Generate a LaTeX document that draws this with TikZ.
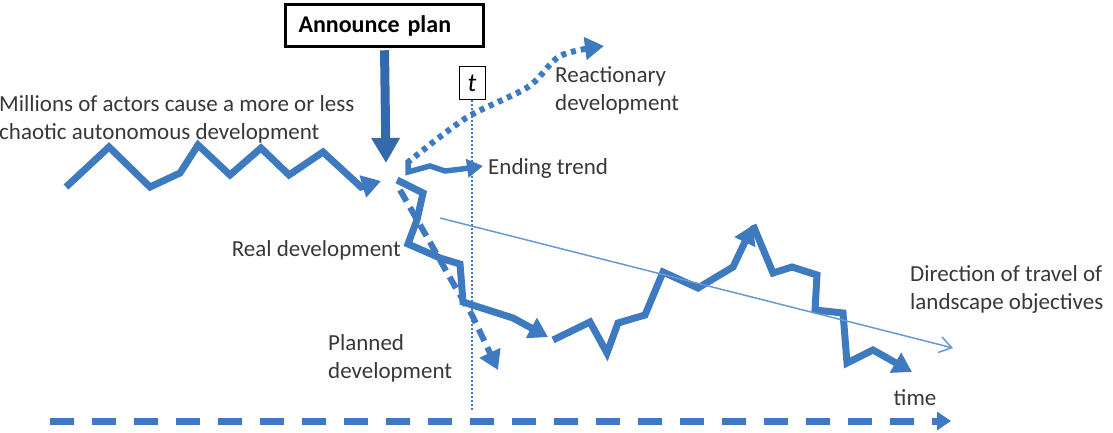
\documentclass[tikz,border=0pt]{standalone}
\usepackage{fontspec}
\setmainfont{Carlito}
\usepackage{xcolor}
\usetikzlibrary{arrows.meta}
\definecolor{trendblue}{RGB}{62,122,192}
\definecolor{planblue}{RGB}{52,106,172}
\definecolor{driftblue}{RGB}{105,152,210}

\begin{document}
\begin{tikzpicture}
    [x=1pt,y=-1pt,
    font=\fontsize{23}{28}\selectfont,
    caption/.style={align=left,text=black!78,inner sep=0pt},
    trend/.style={draw=trendblue,line width=7pt},
    trendarc/.style={trend,-{Triangle[length=19pt,width=22pt]}},
    planned/.style={trendarc,line width=6pt,dash pattern=on 13pt off 7pt},
    reactionary/.style={trendarc,line width=6pt,dash pattern=on 5pt off 5pt},
    drift/.style={draw=driftblue,line width=1.5pt,-{Straight Barb[length=12pt,width=16pt]}},
    timeaxis/.style={draw=trendblue,line width=7pt,dash pattern=on 24pt off 18pt,
      -{Triangle[length=14pt,width=18pt]}}]

    \useasboundingbox (0,0) rectangle (1113,432);

    \node (announce) [draw=black,line width=3.5pt,text width=172pt,align=left,
      inner xsep=13pt,minimum height=42pt,font=\fontsize{24}{28}\selectfont\bfseries]
      at (384.5,25.5) {Announce plan};
    \node (tbox) [draw=black,line width=1pt,minimum width=26pt,minimum height=33pt,
      inner sep=0pt,font=\fontsize{26}{28}\selectfont\itshape] at (472,83) {t};

    \node (millions) [caption,anchor=west] at (-1,119)
      {Millions of actors cause a more or less\\chaotic autonomous development};
    \node (reaction) [caption,anchor=west] at (555,90) {Reactionary\\development};
    \node (ending) [caption,anchor=west] at (488,168) {Ending trend};
    \node (real) [caption,anchor=east] at (401,250) {Real development};
    \node (plan) [caption,anchor=west] at (328,358) {Planned\\development};
    \node (direction) [caption,anchor=west] at (910,289)
      {Direction of travel of\\landscape objectives};
    \node (time) [caption] at (915,398) {time};

    \coordinate (plantip) at (386,163);
    \coordinate (tfoot) at (472,410);
    \coordinate (axisstart) at (50,421);
    \coordinate (axisend) at (951,421);
    \coordinate (driftstart) at (440,218);
    \coordinate (driftend) at (953,348);

    % announcement
    \draw [draw=planblue,line width=9pt,shorten <=2pt,
      -{Triangle[length=25pt,width=27pt]}] (announce.south) -- (plantip);

    % moment t
    \draw [draw=trendblue,line width=2pt,dash pattern=on 2pt off 2pt] (tbox.south) -- (tfoot);

    % autonomous development
    \draw [trendarc] (66,187) -- (109,147) -- (150,187) -- (180,173) -- (198,145)
      -- (230,175) -- (261,148) -- (289,175) -- (323,152) -- (361,187) -- (381,181);

    % branches after the plan
    \draw [reactionary] plot [smooth] coordinates
      {(407,163) (466,118) (528,87) (560,56) (604,46)};
    \draw [trendarc,line width=5.5pt,-{Triangle[length=16pt,width=18pt]}]
      (408,161) -- (408,172) -- (430,166) -- (445,171) -- (462,169) -- (483,166);
    \draw [planned] (400,190) -- (427,237) -- (453,283) -- (472,315) -- (498,370);

    \draw [trendarc] (397,180) -- (423,193) -- (417,220) -- (408,244) -- (440,258)
      -- (460,264) -- (463,302) -- (513,318) -- (548,337);
    \draw [trendarc] (553,340) -- (590,322) -- (607,353) -- (618,323) -- (645,315)
      -- (663,272) -- (698,288) -- (733,267) -- (753,225);
    \draw [trendarc] (753,225) -- (773,273) -- (792,267) -- (817,275) -- (815,310)
      -- (843,313) -- (847,363) -- (873,350) -- (912,372);

    \draw [drift] (driftstart) -- (driftend);
    \draw [timeaxis] (axisstart) -- (axisend);
  \end{tikzpicture}
\end{document}
